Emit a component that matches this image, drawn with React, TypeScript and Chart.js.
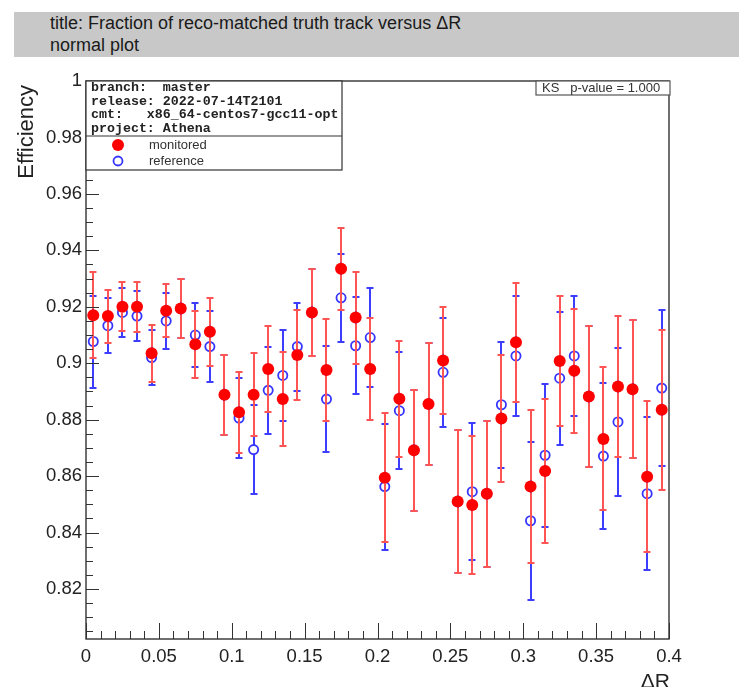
import React, { useEffect, useRef } from "react";
import { Chart, registerables } from "chart.js";

Chart.register(...registerables);

// Bin centres in ΔR (40 bins of width 0.01)
const DR_CENTERS = [
  0.005, 0.015, 0.025, 0.035, 0.045, 0.055, 0.065, 0.075, 0.085, 0.095,
  0.105, 0.115, 0.125, 0.135, 0.145, 0.155, 0.165, 0.175, 0.185, 0.195,
  0.205, 0.215, 0.225, 0.235, 0.245, 0.255, 0.265, 0.275, 0.285, 0.295,
  0.305, 0.315, 0.325, 0.335, 0.345, 0.355, 0.365, 0.375, 0.385, 0.395,
];

const MONITORED = [
  0.917, 0.9167, 0.92, 0.92, 0.9035, 0.9186, 0.9194, 0.9067, 0.9112, 0.8888,
  0.8826, 0.8888, 0.898, 0.8873, 0.9029, 0.918, 0.8976, 0.9335, 0.9162, 0.898,
  0.8594, 0.8874, 0.8692, 0.8856, 0.901, 0.851, 0.8498, 0.8538, 0.8804, 0.9074,
  0.8563, 0.8618, 0.9008, 0.8973, 0.8882, 0.8732, 0.8918, 0.8908, 0.8598, 0.8835,
];

const MONITORED_ERR = [
  0.0153, 0.0094, 0.0087, 0.0089, 0.01, 0.0093, 0.0103, 0.0119, 0.012, 0.0142,
  0.0143, 0.0147, 0.0152, 0.0167, 0.0159, 0.0153, 0.018, 0.0145, 0.0163, 0.0181,
  0.0228, 0.0205, 0.0214, 0.0216, 0.019, 0.0253, 0.0244, 0.0259, 0.0225, 0.0211,
  0.027, 0.0256, 0.0229, 0.0219, 0.025, 0.0253, 0.0249, 0.0245, 0.0267, 0.0283,
];

const REFERENCE = [
  0.9077, 0.9133, 0.918, 0.9167, 0.902, 0.915, 0.9194, 0.91, 0.9059, 0.8888,
  0.8806, 0.8694, 0.8904, 0.8957, 0.9059, 0.918, 0.8873, 0.9232, 0.9062, 0.9091,
  0.8563, 0.8832, 0.8692, 0.8856, 0.8968, 0.851, 0.8545, 0.8538, 0.8853, 0.9026,
  0.8442, 0.8674, 0.8947, 0.9026, 0.8882, 0.8671, 0.8792, 0.8908, 0.8538, 0.8912,
];

const REFERENCE_ERR = [
  0.0163, 0.0097, 0.0088, 0.0089, 0.0097, 0.0098, 0.0103, 0.0113, 0.0126, 0.0142,
  0.014, 0.0158, 0.0155, 0.0162, 0.0156, 0.0153, 0.0187, 0.0156, 0.0172, 0.0175,
  0.0223, 0.0208, 0.0214, 0.0216, 0.0193, 0.0253, 0.0242, 0.0259, 0.0223, 0.0214,
  0.028, 0.0253, 0.0236, 0.0214, 0.025, 0.026, 0.0262, 0.0245, 0.027, 0.0275,
];

const X_TICKS = [0, 0.05, 0.1, 0.15, 0.2, 0.25, 0.3, 0.35, 0.4];
const Y_TICKS = [0.82, 0.84, 0.86, 0.88, 0.9, 0.92, 0.94, 0.96, 0.98, 1.0];

const INFO_LINES = [
  "branch:  master",
  "release: 2022-07-14T2101",
  "cmt:   x86_64-centos7-gcc11-opt",
  "project: Athena",
];
const LEGEND_LABELS = ["monitored", "reference"];
const KS_TEXT = "KS   p-value = 1.000";
const TITLE_LINES = ["title: Fraction of reco-matched truth track versus \u0394R", "normal plot"];

const RED = "#ff0000";
const RED_BAR = "#ff5454";
const BLUE = "#3535ff";
const BLUE_BAR = "#3d3dff";
const INK = "#222";
const SANS = "'Liberation Sans', Arial, Helvetica, sans-serif";
const MONO = "'Liberation Mono', 'DejaVu Sans Mono', monospace";

const fmt = (v: number) => String(parseFloat(v.toFixed(3)));

// Vertical error bars with small caps, drawn just before each dataset's markers
const errorBars = {
  id: "errorBars",
  beforeDatasetDraw(chart: any, args: any) {
    const ds = chart.data.datasets[args.index];
    const errs: number[] | undefined = ds.errors;
    if (!errs) return;
    const { ctx } = chart;
    const xs = chart.scales.x;
    const ys = chart.scales.y;
    const gap = ds.pointRadius;
    ctx.save();
    ctx.strokeStyle = ds.barColor;
    ctx.lineWidth = 2;
    ds.data.forEach((p: { x: number; y: number }, j: number) => {
      const px = Math.round(xs.getPixelForValue(p.x));
      const py = ys.getPixelForValue(p.y);
      const top = Math.round(ys.getPixelForValue(p.y + errs[j]));
      const bot = Math.round(ys.getPixelForValue(p.y - errs[j]));
      ctx.beginPath();
      ctx.moveTo(px, top);
      ctx.lineTo(px, py - gap);
      ctx.moveTo(px, py + gap);
      ctx.lineTo(px, bot);
      ctx.moveTo(px - 3.5, top);
      ctx.lineTo(px + 3.5, top);
      ctx.moveTo(px - 3.5, bot);
      ctx.lineTo(px + 3.5, bot);
      ctx.stroke();
    });
    ctx.restore();
  },
};

// Frame, inward ticks, axis titles, info/legend box and KS box
const decorations = {
  id: "decorations",
  afterDraw(chart: any) {
    const { ctx, chartArea: a } = chart;
    const xs = chart.scales.x;
    const ys = chart.scales.y;
    ctx.save();

    // ticks
    ctx.strokeStyle = "#333";
    ctx.lineWidth = 1;
    ctx.beginPath();
    for (let k = 0; k <= 40; k++) {
      const v = k * 0.01;
      const px = Math.round(xs.getPixelForValue(v)) + 0.5;
      const len = k % 5 === 0 ? 16 : 8;
      ctx.moveTo(px, a.bottom);
      ctx.lineTo(px, a.bottom - len);
    }
    for (let k = 0; k <= 40; k++) {
      const v = 0.8 + k * 0.005;
      if (v < ys.min - 1e-9) continue;
      const py = Math.round(ys.getPixelForValue(v)) + 0.5;
      const len = k % 4 === 0 ? 13 : 7;
      ctx.moveTo(a.left, py);
      ctx.lineTo(a.left + len, py);
    }
    ctx.stroke();

    // frame
    ctx.strokeStyle = "#333";
    ctx.lineWidth = 1.4;
    ctx.strokeRect(a.left, a.top, a.right - a.left, a.bottom - a.top);

    // axis titles
    ctx.fillStyle = INK;
    ctx.font = `21px ${SANS}`;
    ctx.textAlign = "right";
    ctx.textBaseline = "alphabetic";
    ctx.fillText("\u0394R", a.right + 1, 688);
    ctx.save();
    ctx.font = `22px ${SANS}`;
    ctx.translate(33, a.top + 4);
    ctx.rotate(-Math.PI / 2);
    ctx.fillText("Efficiency", 0, 0);
    ctx.restore();

    // info + legend box
    const bx = a.left;
    const by = a.top;
    const bw = 256;
    const sep = 136;
    const bb = 170;
    ctx.fillStyle = "#fff";
    ctx.fillRect(bx, by, bw, bb - by);
    ctx.strokeStyle = "#333";
    ctx.lineWidth = 1.2;
    ctx.strokeRect(bx, by, bw, bb - by);
    ctx.beginPath();
    ctx.moveTo(bx, sep);
    ctx.lineTo(bx + bw, sep);
    ctx.stroke();

    ctx.fillStyle = INK;
    ctx.font = `bold 13.3px ${MONO}`;
    ctx.textAlign = "left";
    ctx.textBaseline = "middle";
    const lineY = [88, 102, 115, 129];
    INFO_LINES.forEach((t, i) => ctx.fillText(t, bx + 5, lineY[i]));

    ctx.font = `13px ${SANS}`;
    ctx.fillStyle = "#333";
    ctx.fillText(LEGEND_LABELS[0], 149, 145);
    ctx.fillText(LEGEND_LABELS[1], 149, 161);
    ctx.fillStyle = RED;
    ctx.beginPath();
    ctx.arc(118, 145, 6, 0, Math.PI * 2);
    ctx.fill();
    ctx.strokeStyle = BLUE;
    ctx.lineWidth = 1.8;
    ctx.beginPath();
    ctx.arc(118, 161, 4.5, 0, Math.PI * 2);
    ctx.stroke();

    // KS box
    const kx = 536;
    const kr = a.right + 1;
    ctx.fillStyle = "#fff";
    ctx.fillRect(kx, a.top, kr - kx, 14);
    ctx.strokeStyle = "#555";
    ctx.lineWidth = 1.2;
    ctx.strokeRect(kx, a.top, kr - kx, 14);
    ctx.fillStyle = "#333";
    ctx.font = `13px ${SANS}`;
    ctx.textAlign = "left";
    ctx.textBaseline = "middle";
    ctx.fillText(KS_TEXT, kx + 6, a.top + 7.5);

    ctx.restore();
  },
};

export default function App() {
  const canvasRef = useRef<HTMLCanvasElement | null>(null);

  useEffect(() => {
    if (!canvasRef.current) return;
    const chart = new Chart(canvasRef.current, {
      type: "scatter",
      data: {
        datasets: [
          {
            label: LEGEND_LABELS[0],
            order: 0,
            data: DR_CENTERS.map((x, i) => ({ x, y: MONITORED[i] })),
            errors: MONITORED_ERR,
            barColor: RED_BAR,
            pointRadius: 6,
            pointHoverRadius: 6,
            pointBackgroundColor: RED,
            pointBorderColor: RED,
            pointBorderWidth: 0,
            showLine: false,
          } as any,
          {
            label: LEGEND_LABELS[1],
            order: 1,
            data: DR_CENTERS.map((x, i) => ({ x, y: REFERENCE[i] })),
            errors: REFERENCE_ERR,
            barColor: BLUE_BAR,
            pointRadius: 4.6,
            pointHoverRadius: 4.6,
            pointBackgroundColor: "rgba(0,0,0,0)",
            pointBorderColor: BLUE,
            pointBorderWidth: 1.8,
            showLine: false,
          } as any,
        ],
      },
      options: {
        responsive: false,
        animation: false,
        devicePixelRatio: 1,
        layout: { padding: { left: 0, top: 81, right: 70, bottom: 18 } },
        plugins: { legend: { display: false }, tooltip: { enabled: false } },
        scales: {
          x: {
            type: "linear",
            min: 0,
            max: 0.4,
            grid: { display: false, drawTicks: false },
            border: { display: false },
            afterBuildTicks: (scale: any) => {
              scale.ticks = X_TICKS.map((v) => ({ value: v }));
            },
            afterFit: (scale: any) => {
              scale.height = 30;
            },
            ticks: {
              autoSkip: false,
              maxRotation: 0,
              minRotation: 0,
              padding: 7,
              color: INK,
              font: { family: SANS, size: 18.5 },
              callback: (v: any) => fmt(Number(v)),
            },
          },
          y: {
            type: "linear",
            min: 0.8023,
            max: 1.0,
            grid: { display: false, drawTicks: false },
            border: { display: false },
            afterBuildTicks: (scale: any) => {
              scale.ticks = Y_TICKS.map((v) => ({ value: v }));
            },
            afterFit: (scale: any) => {
              scale.width = 86;
            },
            ticks: {
              autoSkip: false,
              padding: 4,
              color: INK,
              font: { family: SANS, size: 18.5 },
              callback: (v: any) => fmt(Number(v)),
            },
          },
        },
      },
      plugins: [errorBars, decorations],
    });
    return () => chart.destroy();
  }, []);

  return (
    <div
      style={{
        position: "absolute",
        left: 0,
        top: 0,
        width: 739,
        height: 687,
        background: "#fff",
        overflow: "hidden",
      }}
    >
      <div
        style={{
          position: "absolute",
          left: 14,
          top: 12,
          width: 725,
          height: 45,
          background: "#c8c8c8",
        }}
      />
      {TITLE_LINES.map((t, i) => (
        <div
          key={i}
          style={{
            position: "absolute",
            left: 50,
            top: 13 + i * 21.5,
            height: 21,
            lineHeight: "21px",
            fontFamily: SANS,
            fontSize: 18,
            color: "#1a1a1a",
            whiteSpace: "nowrap",
          }}
        >
          {t}
        </div>
      ))}
      <canvas
        ref={canvasRef}
        width={739}
        height={687}
        style={{ position: "absolute", left: 0, top: 0, width: 739, height: 687 }}
      />
    </div>
  );
}
